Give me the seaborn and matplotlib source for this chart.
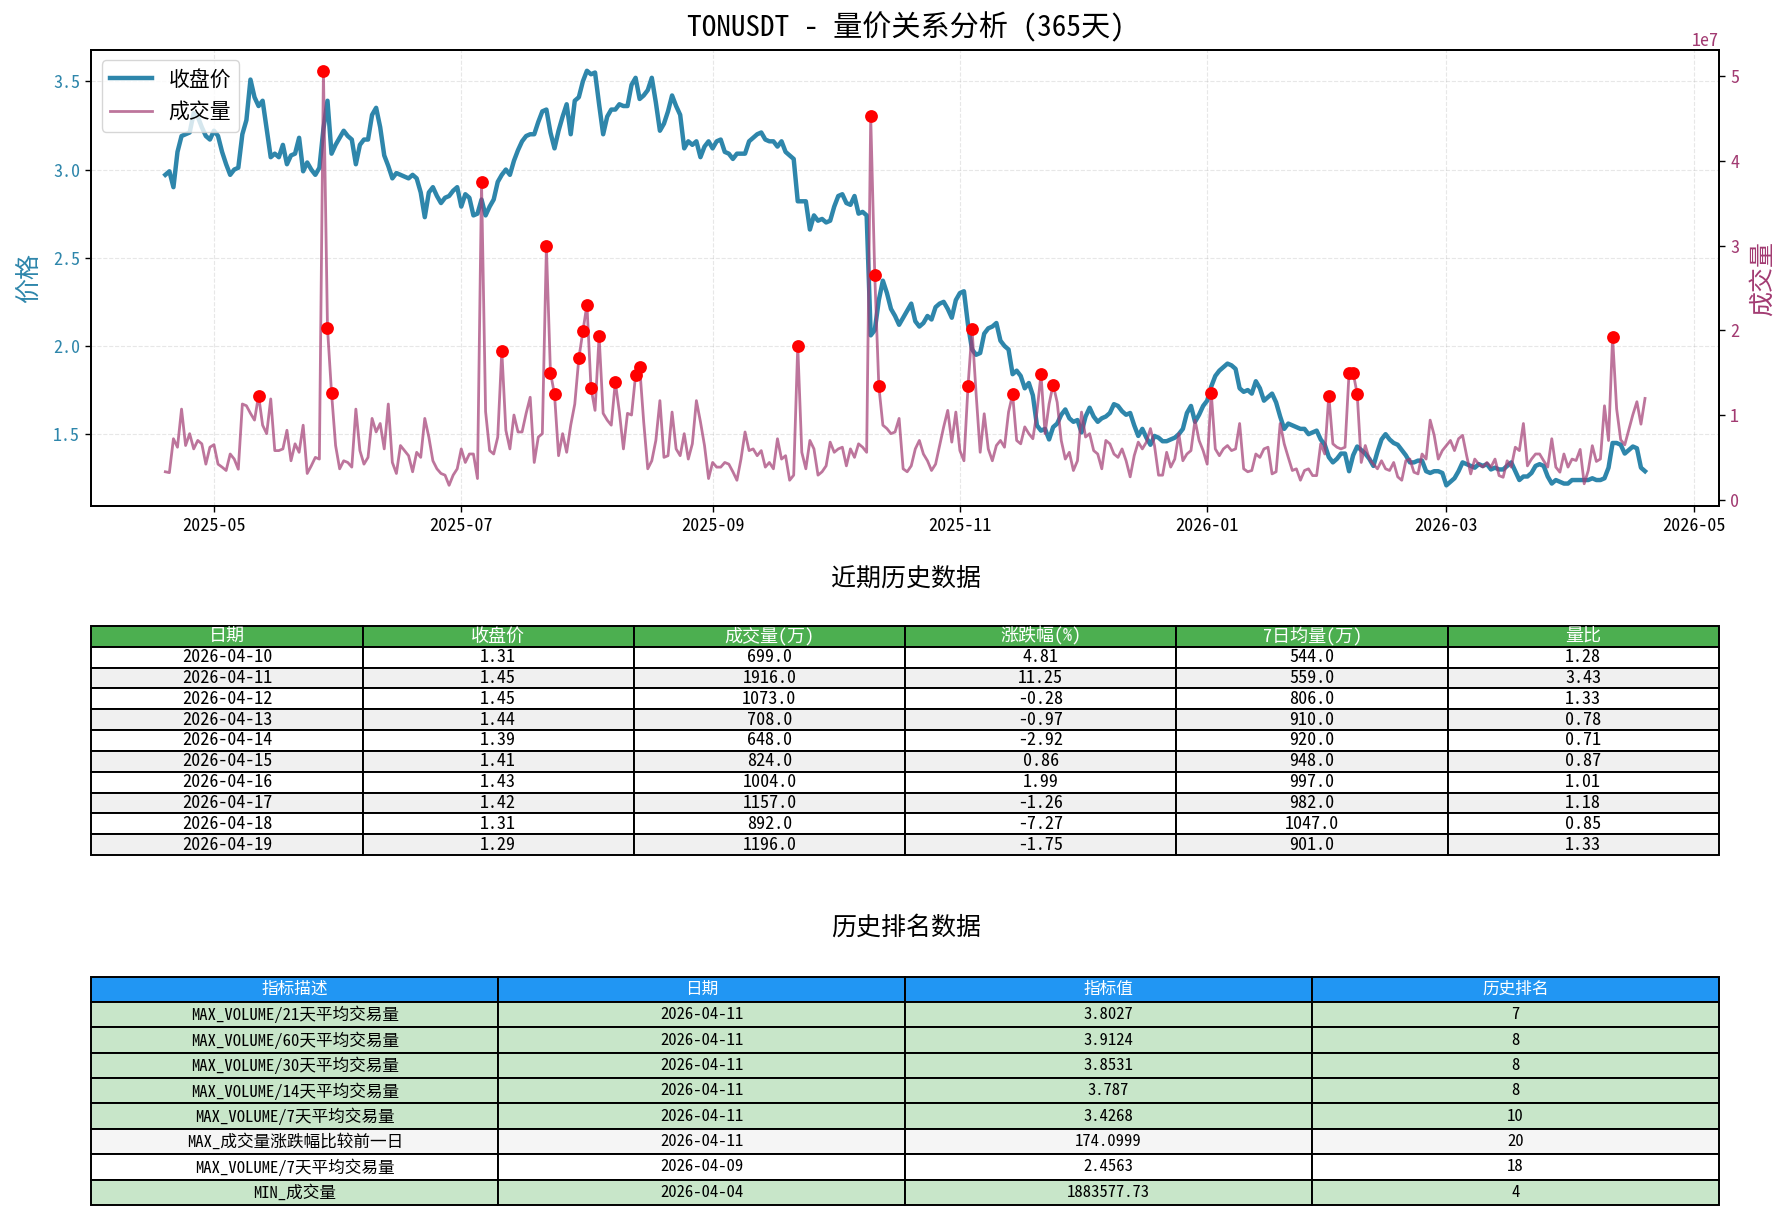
import numpy as np
import pandas as pd
import matplotlib
matplotlib.use('Agg')
import matplotlib.pyplot as plt
import matplotlib.dates as mdates
import seaborn as sns

# ---------------------------------------------------------------
# data

symbol = 'TONUSDT'
days = 365
start_date = '2025-04-19'
end_date = '2026-04-19'

# daily close (USDT)
close = [
    2.97, 2.99, 2.90, 3.10, 3.19, 3.20, 3.21, 3.32, 3.30, 3.24,
    3.19, 3.17, 3.22, 3.19, 3.10, 3.03, 2.97, 3.00, 3.01, 3.20,
    3.28, 3.51, 3.41, 3.36, 3.39, 3.23, 3.07, 3.09, 3.07, 3.14,
    3.03, 3.08, 3.09, 3.18, 2.99, 3.04, 3.00, 2.97, 3.01, 3.23,
    3.39, 3.09, 3.14, 3.18, 3.22, 3.19, 3.17, 3.03, 3.14, 3.17,
    3.17, 3.31, 3.35, 3.24, 3.08, 3.02, 2.95, 2.98, 2.97, 2.96,
    2.95, 2.97, 2.95, 2.87, 2.73, 2.87, 2.90, 2.85, 2.81, 2.84,
    2.85, 2.88, 2.90, 2.79, 2.86, 2.84, 2.74, 2.75, 2.83, 2.74,
    2.79, 2.83, 2.93, 2.97, 3.00, 2.97, 3.05, 3.11, 3.16, 3.19,
    3.20, 3.20, 3.27, 3.33, 3.34, 3.21, 3.12, 3.22, 3.30, 3.37,
    3.20, 3.39, 3.41, 3.50, 3.56, 3.54, 3.55, 3.37, 3.20, 3.30,
    3.34, 3.34, 3.37, 3.36, 3.36, 3.48, 3.52, 3.40, 3.42, 3.45,
    3.52, 3.38, 3.22, 3.26, 3.33, 3.42, 3.36, 3.31, 3.12, 3.16,
    3.14, 3.16, 3.07, 3.13, 3.16, 3.12, 3.16, 3.17, 3.10, 3.09,
    3.06, 3.09, 3.09, 3.09, 3.16, 3.18, 3.20, 3.21, 3.17, 3.16,
    3.16, 3.13, 3.16, 3.10, 3.08, 3.06, 2.82, 2.82, 2.82, 2.66,
    2.74, 2.71, 2.72, 2.70, 2.71, 2.79, 2.85, 2.86, 2.81, 2.80,
    2.85, 2.75, 2.76, 2.74, 2.06, 2.09, 2.26, 2.37, 2.30, 2.21,
    2.17, 2.12, 2.16, 2.20, 2.24, 2.14, 2.11, 2.13, 2.17, 2.15,
    2.22, 2.24, 2.25, 2.21, 2.16, 2.26, 2.30, 2.31, 2.12, 1.98,
    1.95, 1.96, 2.07, 2.10, 2.11, 2.13, 2.03, 2.00, 1.98, 1.84,
    1.86, 1.83, 1.76, 1.79, 1.72, 1.55, 1.52, 1.53, 1.47, 1.54,
    1.56, 1.61, 1.64, 1.59, 1.57, 1.58, 1.51, 1.60, 1.65, 1.60,
    1.57, 1.59, 1.60, 1.62, 1.67, 1.66, 1.63, 1.61, 1.62, 1.55,
    1.49, 1.53, 1.48, 1.44, 1.49, 1.48, 1.46, 1.46, 1.47, 1.48,
    1.50, 1.53, 1.62, 1.66, 1.57, 1.61, 1.66, 1.69, 1.77, 1.83,
    1.86, 1.88, 1.90, 1.89, 1.87, 1.76, 1.74, 1.75, 1.73, 1.80,
    1.76, 1.69, 1.71, 1.73, 1.68, 1.60, 1.53, 1.56, 1.55, 1.54,
    1.53, 1.53, 1.50, 1.51, 1.52, 1.47, 1.44, 1.37, 1.34, 1.36,
    1.39, 1.39, 1.29, 1.38, 1.43, 1.41, 1.39, 1.36, 1.32, 1.40,
    1.47, 1.50, 1.47, 1.45, 1.44, 1.41, 1.38, 1.34, 1.34, 1.35,
    1.35, 1.29, 1.28, 1.29, 1.29, 1.28, 1.21, 1.23, 1.25, 1.29,
    1.34, 1.33, 1.32, 1.31, 1.33, 1.32, 1.33, 1.30, 1.31, 1.30,
    1.30, 1.32, 1.34, 1.29, 1.24, 1.26, 1.26, 1.28, 1.32, 1.33,
    1.32, 1.26, 1.22, 1.24, 1.23, 1.22, 1.22, 1.24, 1.24, 1.24,
    1.24, 1.24, 1.25, 1.24, 1.24, 1.25, 1.31, 1.45, 1.45, 1.44,
    1.39, 1.41, 1.43, 1.42, 1.31, 1.29,
]

# daily volume (万)
volume_wan = [
    330, 320, 720, 620, 1070, 640, 780, 600, 700, 660,
    420, 620, 650, 420, 385, 345, 540, 480, 360, 1130,
    1110, 1020, 940, 1230, 880, 780, 1190, 580, 580, 600,
    820, 460, 660, 560, 880, 310, 400, 500, 480, 5065,
    2030, 1260, 640, 365, 460, 440, 385, 1070, 580, 420,
    500, 960, 800, 900, 600, 1130, 440, 310, 640, 580,
    520, 330, 560, 500, 960, 740, 460, 365, 310, 290,
    170, 290, 365, 600, 440, 540, 540, 250, 3750, 1040,
    580, 540, 740, 1760, 820, 600, 1000, 800, 800, 1020,
    1210, 440, 740, 780, 2990, 1500, 1245, 520, 780, 560,
    880, 1130, 1670, 1990, 2305, 1320, 1055, 1930, 1020, 940,
    880, 1390, 1035, 600, 1020, 1000, 1470, 1570, 920, 365,
    460, 700, 1170, 500, 520, 1035, 600, 520, 780, 480,
    660, 1170, 920, 640, 250, 440, 385, 385, 440, 420,
    330, 230, 480, 800, 580, 600, 520, 580, 385, 440,
    365, 720, 480, 520, 230, 290, 1820, 560, 365, 700,
    600, 290, 330, 400, 680, 560, 600, 620, 400, 600,
    500, 660, 620, 560, 4525, 2650, 1340, 880, 840, 780,
    800, 960, 365, 330, 400, 600, 700, 540, 460, 345,
    420, 640, 860, 1055, 680, 1035, 580, 460, 1340, 2010,
    1250, 560, 1015, 600, 460, 640, 700, 620, 1035, 1245,
    700, 660, 860, 780, 720, 1035, 1480, 780, 1130, 1360,
    1150, 700, 480, 560, 345, 460, 1035, 740, 780, 580,
    540, 365, 700, 660, 540, 500, 600, 460, 270, 520,
    680, 600, 680, 840, 640, 290, 290, 560, 385, 480,
    780, 460, 540, 580, 940, 700, 580, 420, 1260, 600,
    520, 600, 640, 580, 600, 900, 365, 330, 345, 540,
    500, 600, 620, 305, 330, 900, 660, 500, 345, 365,
    230, 345, 365, 285, 285, 660, 540, 1230, 660, 620,
    600, 620, 1500, 1500, 1250, 440, 640, 480, 420, 365,
    460, 365, 345, 440, 270, 230, 460, 480, 325, 305,
    540, 480, 940, 760, 480, 580, 640, 700, 580, 720,
    760, 520, 305, 480, 420, 385, 440, 385, 480, 285,
    265, 460, 385, 620, 580, 900, 400, 480, 540, 540,
    460, 385, 720, 385, 325, 540, 385, 480, 463, 594,
    188.36, 345, 638, 452, 481, 1109, 699, 1916, 1073, 708,
    648, 824, 1004, 1157, 892, 1196,
]

# days flagged as volume spikes (index into the series)
spike_idx = [23, 39, 40, 41, 78, 83, 94, 95, 96, 102, 103, 104, 105, 107,
             111, 116, 117, 156, 174, 175, 176, 198, 199, 209, 216, 219,
             258, 287, 292, 293, 294, 357]

# recent history table
recent_cols = ['日期', '收盘价', '成交量(万)', '涨跌幅(%)', '7日均量(万)', '量比']
recent_pct = [4.81, 11.25, -0.28, -0.97, -2.92, 0.86, 1.99, -1.26, -7.27, -1.75]
recent_ma7 = [544.0, 559.0, 806.0, 910.0, 920.0, 948.0, 997.0, 982.0, 1047.0, 901.0]
recent_ratio = [1.28, 3.43, 1.33, 0.78, 0.71, 0.87, 1.01, 1.18, 0.85, 1.33]

# ranking table
rank_cols = ['指标描述', '日期', '指标值', '历史排名']
rank_desc = ['MAX_VOLUME/21天平均交易量', 'MAX_VOLUME/60天平均交易量',
             'MAX_VOLUME/30天平均交易量', 'MAX_VOLUME/14天平均交易量',
             'MAX_VOLUME/7天平均交易量', 'MAX_成交量涨跌幅比较前一日',
             'MAX_VOLUME/7天平均交易量', 'MIN_成交量']
rank_dates = ['2026-04-11', '2026-04-11', '2026-04-11', '2026-04-11',
              '2026-04-11', '2026-04-11', '2026-04-09', '2026-04-04']
rank_values = ['3.8027', '3.9124', '3.8531', '3.787', '3.4268',
               '174.0999', '2.4563', '1883577.73']
rank_pos = [7, 8, 8, 8, 10, 20, 18, 4]

# ---------------------------------------------------------------

PRICE_C = '#2E86AB'
VOL_C = '#A23B72'

plt.rcParams['font.family'] = ['Noto Sans Mono CJK SC', 'Noto Sans CJK SC', 'DejaVu Sans']
plt.rcParams['axes.unicode_minus'] = False

dates = pd.date_range(start_date, end_date, freq='D')
df = pd.DataFrame({'date': dates, 'close': close,
                   'volume': np.array(volume_wan) * 1e4})
spikes = df.iloc[spike_idx]

fig = plt.figure(figsize=(17.91, 12.2), dpi=100)

# price / volume chart
ax1 = fig.add_axes([0.0510, 0.5852, 0.9088, 0.3738])
ax2 = ax1.twinx()

sns.lineplot(data=df, x='date', y='close', ax=ax1, color=PRICE_C,
             linewidth=3.2, label='收盘价', legend=False)
sns.lineplot(data=df, x='date', y='volume', ax=ax2, color=VOL_C,
             linewidth=2, alpha=0.7, label='成交量', legend=False)
sns.scatterplot(data=spikes, x='date', y='volume', ax=ax2, color='red',
                s=85, linewidth=0, zorder=5, legend=False)

ax1.set_xlabel('')
ax1.set_ylabel('价格', color=PRICE_C, fontsize=18, labelpad=9)
ax2.set_ylabel('成交量', color=VOL_C, fontsize=18, labelpad=8)
ax1.tick_params(axis='y', labelcolor=PRICE_C, labelsize=13, length=4.5, width=1)
ax2.tick_params(axis='y', labelcolor=VOL_C, labelsize=13, length=4.5, width=1)
ax1.tick_params(axis='x', labelsize=13, length=4.5, width=1)
ax2.yaxis.get_offset_text().set_color(VOL_C)
ax2.yaxis.get_offset_text().set_fontsize(13)
ax1.grid(True, linestyle='--', alpha=0.3)

ax1.xaxis.set_major_locator(mdates.MonthLocator(bymonth=[1, 3, 5, 7, 9, 11]))
ax1.xaxis.set_major_formatter(mdates.DateFormatter('%Y-%m'))

for ax in (ax1, ax2):
    for sp in ax.spines.values():
        sp.set_linewidth(1.3)

h1, l1 = ax1.get_legend_handles_labels()
h2, l2 = ax2.get_legend_handles_labels()
ax2.legend(h1 + h2, l1 + l2, loc='upper left', fontsize=15)

fig.text(0.506, 0.978, f'{symbol} - 量价关系分析 ({days}天)',
         ha='center', va='center', fontsize=21)

# recent history table
rows = []
for i in range(10):
    k = len(close) - 10 + i
    rows.append([dates[k].strftime('%Y-%m-%d'), f'{close[k]:.2f}',
                 f'{volume_wan[k]:.1f}', f'{recent_pct[i]:.2f}',
                 f'{recent_ma7[i]:.1f}', f'{recent_ratio[i]:.2f}'])

fig.text(0.506, 0.526, '近期历史数据', ha='center', va='center', fontsize=18)
tax1 = fig.add_axes([0.0510, 0.2992, 0.9088, 0.1877])
tax1.axis('off')
t1 = tax1.table(cellText=rows, colLabels=recent_cols, cellLoc='center',
                bbox=[0, 0, 1, 1])
t1.auto_set_font_size(False)
t1.set_fontsize(13)
for (r, c), cell in t1.get_celld().items():
    cell.set_linewidth(1.4)
    if r == 0:
        cell.set_facecolor('#4CAF50')
        cell.get_text().set_color('white')
    elif r % 2 == 0:
        cell.set_facecolor('#f0f0f0')

# ranking table
rank_rows = [[rank_desc[i], rank_dates[i], rank_values[i], str(rank_pos[i])]
             for i in range(len(rank_desc))]

fig.text(0.506, 0.2398, '历史排名数据', ha='center', va='center', fontsize=18)
tax2 = fig.add_axes([0.0510, 0.0123, 0.9088, 0.1872])
tax2.axis('off')
t2 = tax2.table(cellText=rank_rows, colLabels=rank_cols, cellLoc='center',
                bbox=[0, 0, 1, 1])
t2.auto_set_font_size(False)
t2.set_fontsize(12)
for (r, c), cell in t2.get_celld().items():
    cell.set_linewidth(1.4)
    if r == 0:
        cell.set_facecolor('#2196F3')
        cell.get_text().set_color('white')
    elif rank_pos[r - 1] <= 10:
        cell.set_facecolor('#C8E6C9')
    elif r % 2 == 0:
        cell.set_facecolor('#f5f5f5')

fig.savefig('out.png', dpi=100)
